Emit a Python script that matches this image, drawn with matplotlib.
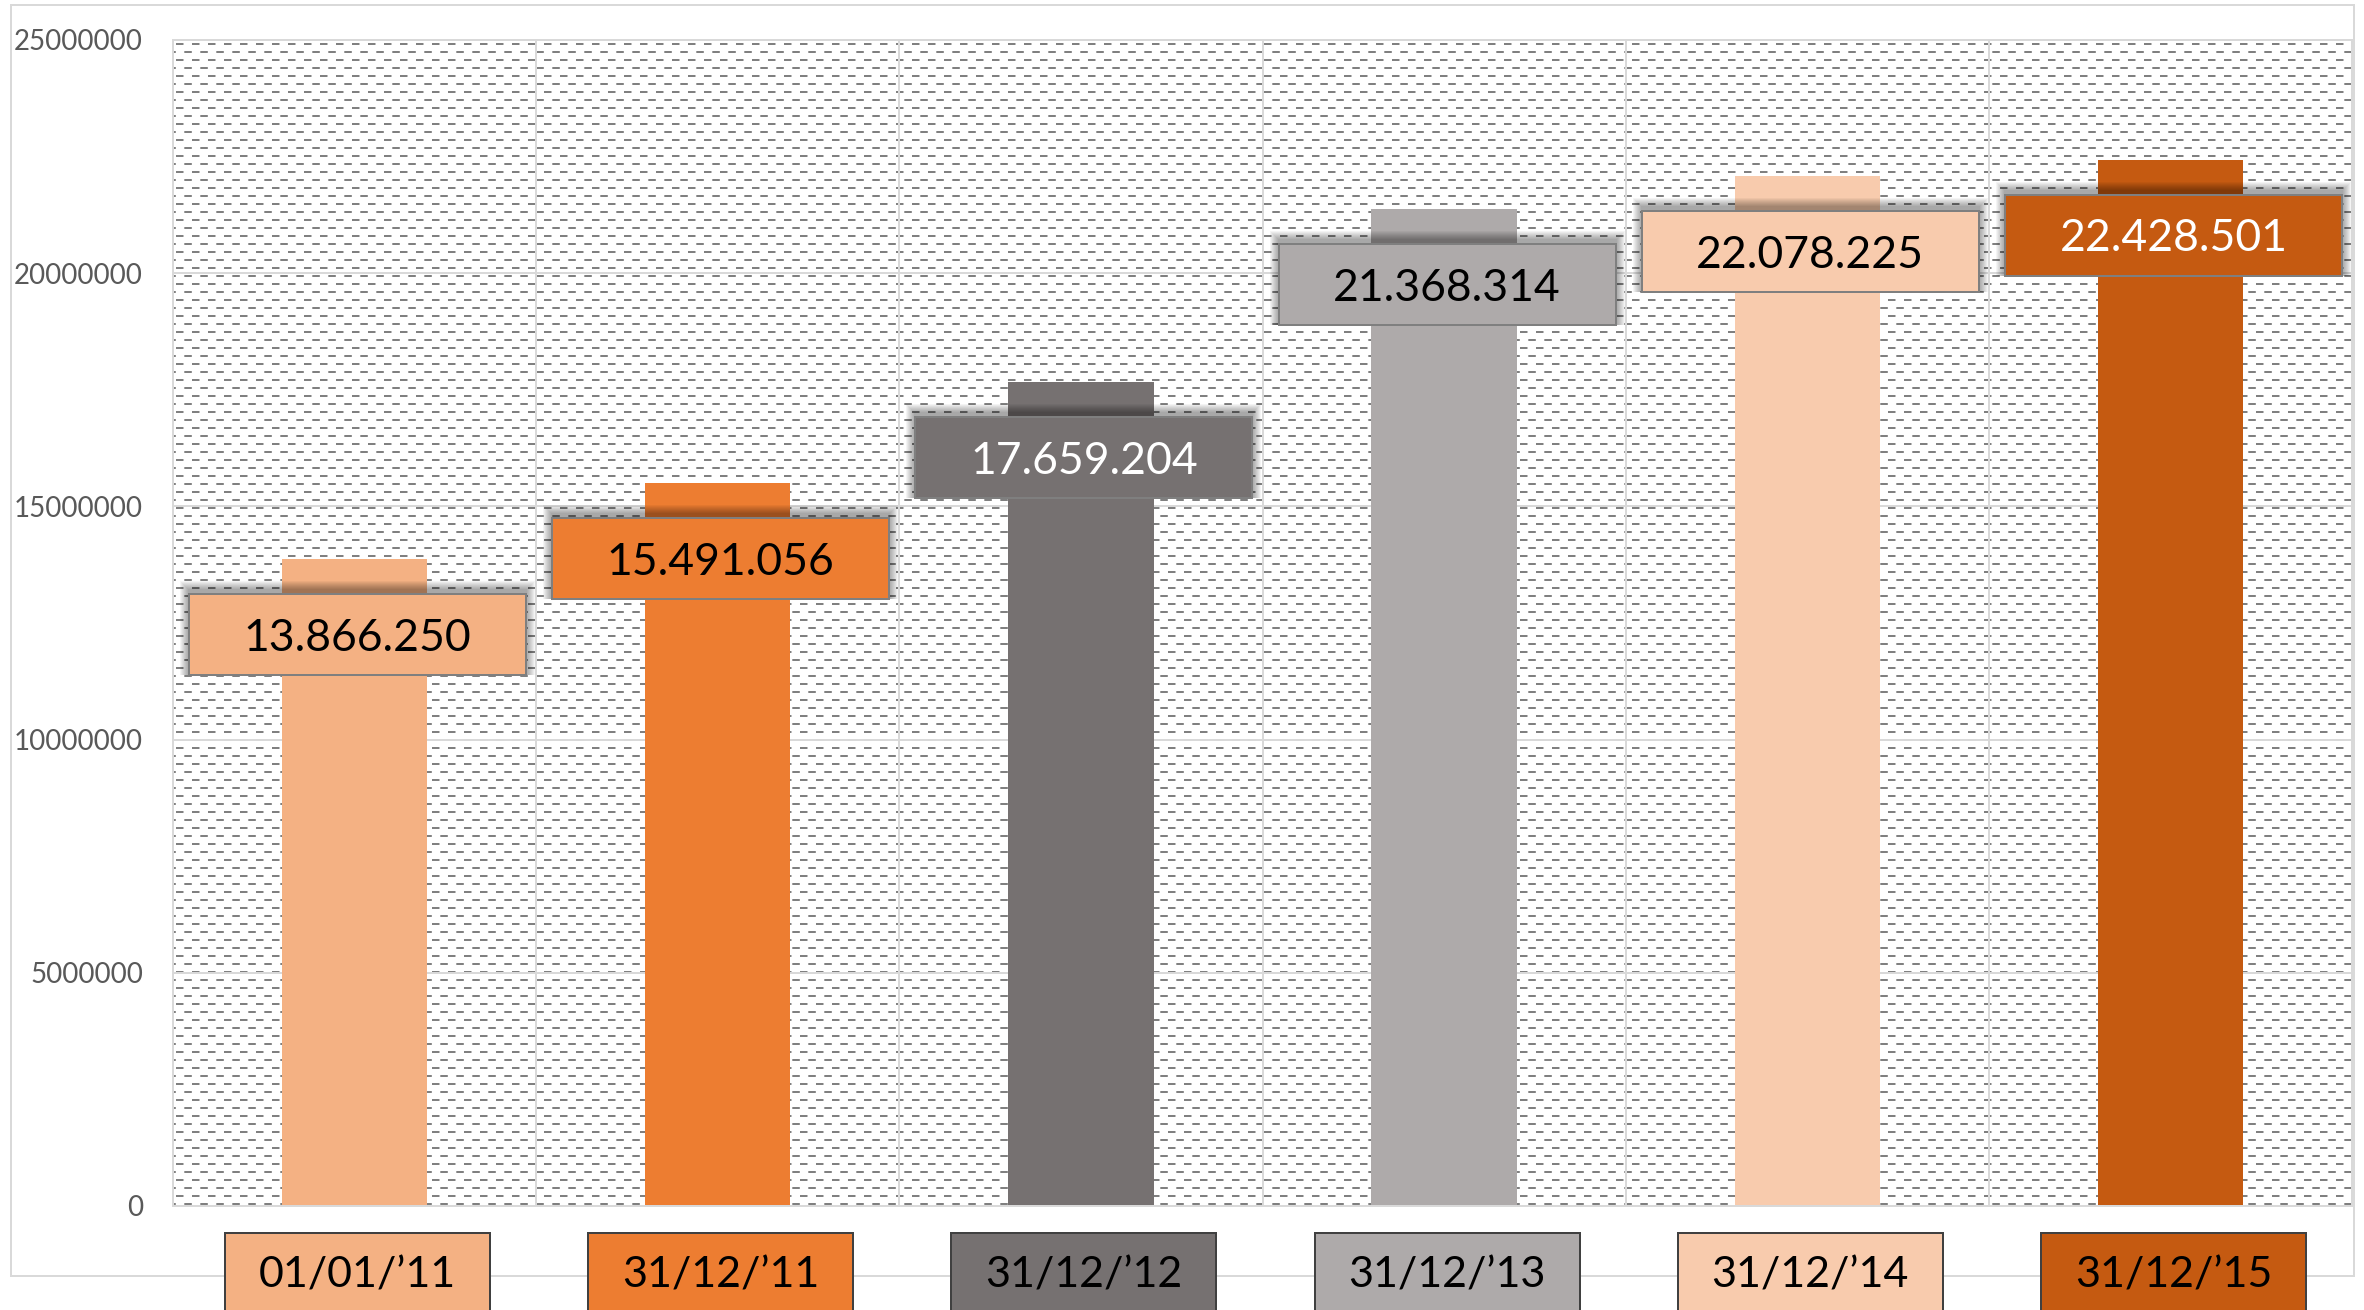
import matplotlib.pyplot as plt
from matplotlib.patches import Rectangle
from matplotlib.collections import LineCollection
import numpy as np

plt.rcParams['font.family'] = ['Lato', 'DejaVu Sans']
plt.rcParams['lines.scale_dashes'] = False

# Data
dates = ['01/01/’11', '31/12/’11', '31/12/’12', '31/12/’13', '31/12/’14', '31/12/’15']
values = [13866250, 15491056, 17659204, 21368314, 22078225, 22428501]
bar_colors = ['#F4B183', '#ED7D31', '#767171', '#AEAAAA', '#F8CBAD', '#C55A11']
text_colors = ['black', 'black', 'white', 'black', 'black', 'white']
yticks = [0, 5000000, 10000000, 15000000, 20000000, 25000000]

# figure / plot area in pixels
W, H = 2364, 1310
L, R, T, B = 173, 2352, 40, 1206
fig = plt.figure(figsize=(W / 100, H / 100), dpi=100)
ax = fig.add_axes([L / W, 1 - B / H, (R - L) / W, (B - T) / H])
ymax = yticks[-1]
ax.set_xlim(-0.5, len(values) - 0.5)
ax.set_ylim(0, ymax)
ux = (R - L) / len(values)   # px per category
uy = (B - T) / ymax          # px per value unit

# dashed horizontal pattern fill of the plot area
rows = np.arange(44, B, 8)
segs = [[(0, 1 - (r - T) / (B - T)), (1, 1 - (r - T) / (B - T))] for r in rows]
styles = [(9.36, (5.4, 6.12)) if i % 2 == 0 else (3.38, (5.4, 6.12)) for i in range(len(rows))]
lc = LineCollection(segs, colors='#808080', linewidths=1.44, linestyles=styles,
                    transform=ax.transAxes, zorder=0.3)
ax.add_collection(lc, autolim=False)

# grid lines
ax.set_axisbelow(True)
ax.set_yticks(yticks)
ax.set_yticklabels([str(t) for t in yticks])
ax.yaxis.grid(True, color='#D9D9D9', lw=1.44)
ax.vlines(np.arange(0.5, len(values) - 0.5), 0, ymax, color='#D9D9D9', lw=1.44, zorder=0.6)
for s in ax.spines.values():
    s.set_color('#D9D9D9')
    s.set_linewidth(1.44)
ax.tick_params(axis='y', length=0, pad=21.6, labelsize=20, labelcolor='#595959')
ax.set_xticks(range(len(values)))
ax.set_xticklabels([])
ax.tick_params(axis='x', length=0)

# bars
x = np.arange(len(values))
ax.bar(x, values, width=0.4, color=bar_colors, zorder=2)

# value labels in boxes (slightly right of the bar centre, like the original)
bw = 337 / ux
dx = 3 / ux
for i, v in enumerate(values):
    top = v - 35 / uy
    bot = top - 81 / uy
    cx = i + dx
    for k in range(1, 10):
        ax.add_patch(Rectangle((cx - bw / 2 - k / ux, bot), bw + 2 * k / ux, top - bot + (4 + k) / uy,
                               fc='black', ec='none', alpha=0.045, zorder=3))
    ax.add_patch(Rectangle((cx - bw / 2, bot), bw, top - bot, fc=bar_colors[i],
                           ec='#7F7F7F', lw=1.44, zorder=4))
    label = f'{v:,}'.replace(',', '.')
    ax.text(cx, (top + bot) / 2 - 16 / uy, label, ha='center', va='baseline', fontsize=32,
            color=text_colors[i], zorder=5)

# category labels in boxes under the axis
xw = 265 / ux
for i, d in enumerate(dates):
    ax.add_patch(Rectangle((i + dx - xw / 2, -134 / uy), xw, 107 / uy, fc=bar_colors[i],
                           ec='#404040', lw=1.44, clip_on=False, zorder=4))
    ax.text(i + dx, -82 / uy, d, ha='center', va='baseline', fontsize=31, color='black',
            clip_on=False, zorder=5)

# outer chart frame
frame = Rectangle((11 / W, 1 - 1276 / H), (2354 - 11) / W, (1276 - 5) / H,
                  transform=fig.transFigure, fill=False, ec='#D9D9D9', lw=1.44, zorder=-1)
fig.add_artist(frame)

fig.savefig('out.png', dpi=100)
